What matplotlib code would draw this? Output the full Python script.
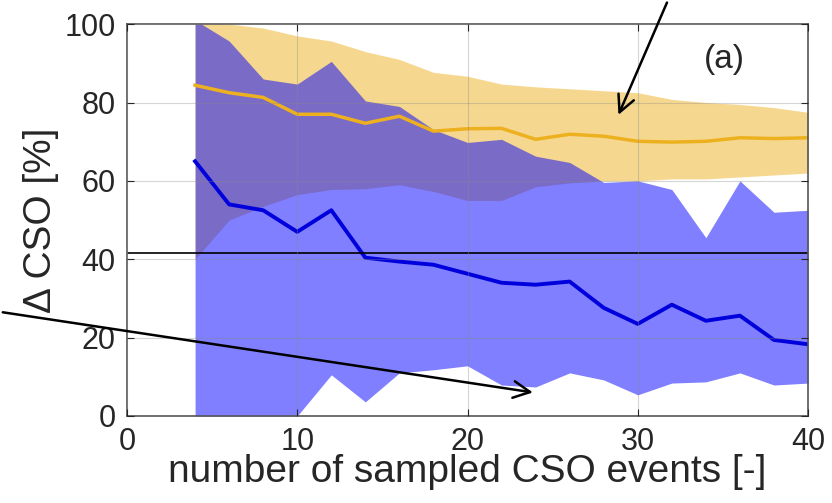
import numpy as np
import matplotlib.pyplot as plt

plt.rcParams['font.family'] = ['Liberation Sans', 'DejaVu Sans']

# number of sampled events
n_events = [4, 6, 8, 10, 12, 14, 16, 18, 20, 22, 24, 26, 28, 30, 32, 34, 36, 38, 40]

# orange series: median and band
orange_med = [84.4, 82.5, 81.3, 77.0, 77.0, 74.7, 76.5, 72.7, 73.3, 73.4, 70.6, 71.9,
              71.4, 70.1, 69.9, 70.1, 71.0, 70.8, 71.0]
orange_hi = [101, 100, 99, 97, 95.7, 93, 91, 87.7, 86.7, 84.7, 84, 83.5,
             83, 82.5, 80.8, 80, 79.5, 78.7, 77.5]
orange_lo = [40, 50, 53.5, 56.5, 57.8, 58, 59, 57.3, 55, 55, 58.5, 59.5,
             60, 60, 60.5, 60.5, 61, 61.5, 62]

# blue series: median and band
blue_med = [65, 54, 52.5, 47, 52.5, 40.4, 39.4, 38.6, 36.3, 34, 33.5, 34.3,
            27.6, 23.5, 28.4, 24.3, 25.6, 19.4, 18.3]
blue_hi = [101, 95.7, 86, 84.7, 90.5, 80.4, 79, 73.1, 69.8, 70.6, 66.3, 64.7,
           59.6, 60, 57.8, 45.5, 60, 52, 52.5]
blue_lo = [0, 0, 0, 0, 10.5, 3.6, 11, 11.8, 12.8, 7.9, 7.4, 11,
           9.2, 5.4, 8.4, 8.7, 11, 7.9, 8.4]

ref_level = 41.5

orange = '#EDB120'
blue = '#0000FF'
txt = '#262626'

fig = plt.figure(figsize=(8.32, 5.03), dpi=100)
ax = fig.add_axes([0.1526, 0.173, 0.8186, 0.779])

ax.fill_between(n_events, orange_lo, orange_hi, color=orange, alpha=0.5, lw=0)
ax.plot(n_events, orange_med, color=orange, lw=2.5)
ax.fill_between(n_events, blue_lo, blue_hi, color=blue, alpha=0.5, lw=0)
ax.plot(n_events, blue_med, color='#0000DD', lw=2.8)
ax.axhline(ref_level, color='black', lw=1.2)

ax.set_xlim(0, 40)
ax.set_ylim(0, 100)
ax.set_xticks([0, 10, 20, 30, 40])
ax.set_yticks([0, 20, 40, 60, 80, 100])
ax.grid(True, color='#888888', alpha=0.35, lw=0.8)
ax.set_axisbelow(False)
ax.tick_params(direction='in', top=True, right=True, labelsize=22,
               colors=txt, length=5, pad=8)
for s in ax.spines.values():
    s.set_color('#555555')
    s.set_linewidth(1.2)

ax.set_xlabel('number of sampled CSO events [-]', fontsize=28, color=txt, labelpad=-2)
ax.set_ylabel('Δ CSO [%]', fontsize=28, color=txt, labelpad=4)

ax.text(35.1, 91, '(a)', fontsize=24, color=txt, ha='center', va='center')

arrow = dict(arrowstyle='->', color='black', lw=1.8, mutation_scale=30)
ax.annotate('', xy=(28.8, 76.2), xycoords='data',
            xytext=(0.803, 1.0), textcoords='figure fraction',
            arrowprops=arrow, annotation_clip=False)
ax.annotate('', xy=(24.0, 5.9), xycoords='data',
            xytext=(0.0, 0.38), textcoords='figure fraction',
            arrowprops=arrow, annotation_clip=False)

fig.savefig('out.png', dpi=100)
